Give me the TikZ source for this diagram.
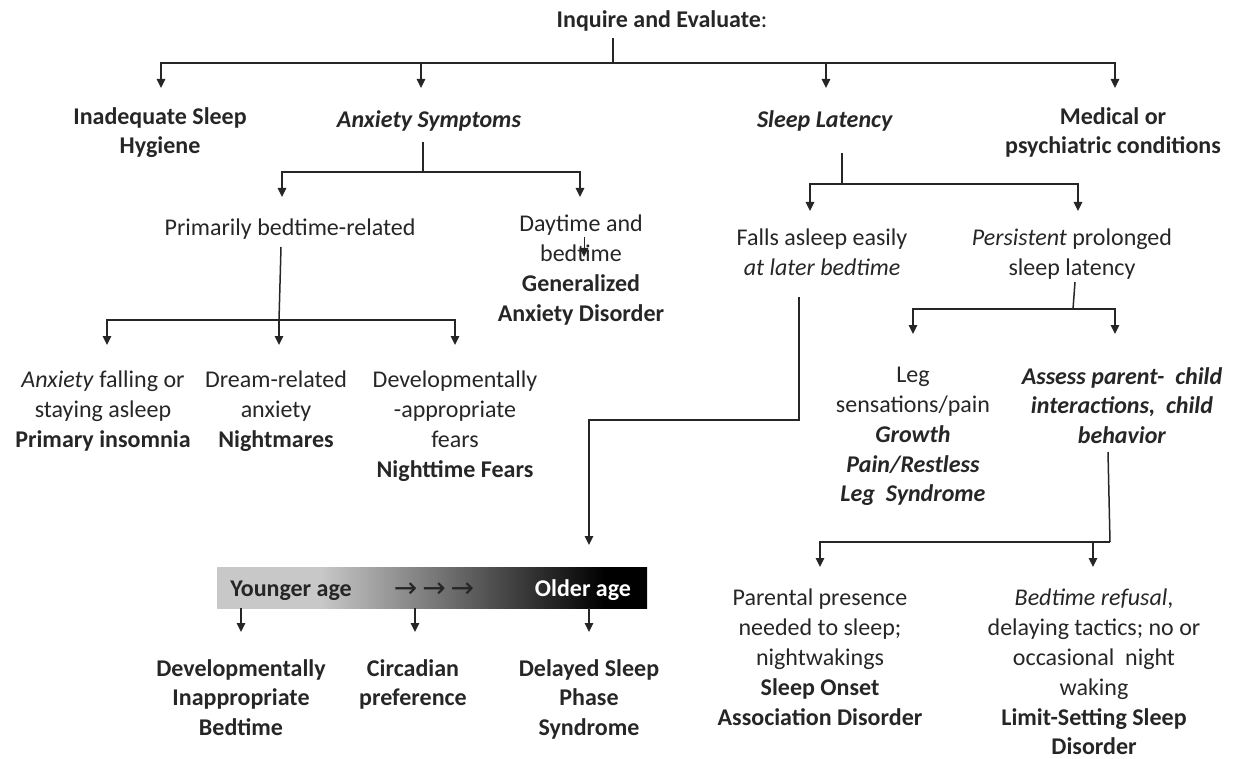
\documentclass[tikz,border=0pt]{standalone}
\usepackage{fontspec}
\setmainfont{Carlito}
\newfontfamily\arrowfont{DejaVu Sans}
\usepackage{tikz}
\usepackage{xcolor}
\usetikzlibrary{arrows.meta}

\definecolor{inkgray}{HTML}{262626}
\definecolor{barlight}{HTML}{C8C8C8}
\pgfdeclarehorizontalshading{agebar}{100bp}{color(0bp)=(barlight); color(37bp)=(barlight); color(70bp)=(black); color(100bp)=(black)}

\begin{document}
\begin{tikzpicture}[x=1pt, y=-1pt,
    txt/.style={align=center, inner sep=0pt, anchor=north, yshift=20pt,
        execute at begin node={\rule{0pt}{20pt}}, text=inkgray,
        font=\fontsize{24}{29.8}\selectfont},
    link/.style={draw=inkgray, line width=1.5pt},
    down/.style={link, -{Triangle[length=9pt, width=8.5pt]}},
    ]
    \useasboundingbox (0,0) rectangle (1236,759);
    %% 第一层: 问诊
    \node[txt] (inq) at (662,27) {\textbf{Inquire and Evaluate}:};
    \node[txt] (hyg) at (160,127) {\textbf{Inadequate Sleep}\\\textbf{Hygiene}};
    \node[txt] (anx) at (429,127) {\textbf{\textit{Anxiety Symptoms}}};
    \node[txt] (lat) at (825,127) {\textbf{\textit{Sleep Latency}}};
    \node[txt] (med) at (1113,127) {\textbf{Medical or}\\\textbf{psychiatric conditions}};
    \coordinate (inq-foot) at (613,38);
    \coordinate (top-bus) at (613,63);
    \coordinate (hyg-in) at (161,88);
    \coordinate (anx-in) at (421,88);
    \coordinate (lat-in) at (826,88);
    \coordinate (med-in) at (1115,88);
    \draw[link] (inq-foot) -- (top-bus);
    \foreach \c in {hyg-in, anx-in, lat-in, med-in}
        \draw[down] (top-bus) -| (\c);

    %% 焦虑分支
    \node[txt] (prim) at (290,235) {Primarily bedtime-related};
    \node[txt] (day) at (581,235) {Daytime and\\bedtime\\\textbf{Generalized}\\\textbf{Anxiety Disorder}};
    \coordinate (anx-foot) at (423,142);
    \coordinate (anx-bus) at (423,172);
    \coordinate (prim-in) at (282,197);
    \coordinate (day-in) at (580,197);
    \draw[link] (anx-foot) -- (anx-bus);
    \foreach \c in {prim-in, day-in}
        \draw[down] (anx-bus) -| (\c);
    \draw[down, line width=1pt] (584,237) -- (584,257); % 文字中的小箭头

    \node[txt] (ins) at (103,391) {\textit{Anxiety} falling or\\staying asleep\\\textbf{Primary insomnia}};
    \node[txt] (nig) at (276,391) {Dream-related\\anxiety\\\textbf{Nightmares}};
    \node[txt] (fea) at (455,391) {Developmentally\\-appropriate\\fears\\\textbf{Nighttime Fears}};
    \coordinate (prim-foot) at (281,247);
    \coordinate (prim-bus) at (279,320);
    \coordinate (ins-in) at (107,345);
    \coordinate (nig-in) at (279,345);
    \coordinate (fea-in) at (455,345);
    \draw[link] (prim-foot) -- (prim-bus);
    \foreach \c in {ins-in, nig-in, fea-in}
        \draw[down] (prim-bus) -| (\c);

    %% 入睡潜伏期分支
    \node[txt] (fal) at (822,249) {Falls asleep easily\\\textit{at later bedtime}};
    \node[txt] (per) at (1072,249) {\textit{Persistent} prolonged\\sleep latency};
    \coordinate (lat-foot) at (842,153);
    \coordinate (lat-bus) at (842,184);
    \coordinate (fal-in) at (810,211);
    \coordinate (per-in) at (1078,211);
    \draw[link] (lat-foot) -- (lat-bus);
    \foreach \c in {fal-in, per-in}
        \draw[down] (lat-bus) -| (\c);

    \node[txt] (leg) at (913,387) {Leg\\sensations/pain\\\textbf{\textit{Growth}}\\\textbf{\textit{Pain/Restless}}\\\textbf{\textit{Leg~ Syndrome}}};
    \node[txt] (ass) at (1122,387) {\textbf{\textit{Assess parent-~ child}}\\\textbf{\textit{interactions,~ child}}\\\textbf{\textit{behavior}}};
    \coordinate (per-foot) at (1075,282);
    \coordinate (per-bus) at (1073,309);
    \coordinate (leg-in) at (913,334);
    \coordinate (ass-in) at (1115,334);
    \draw[link] (per-foot) -- (per-bus);
    \foreach \c in {leg-in, ass-in}
        \draw[down] (per-bus) -| (\c);

    \node[txt] (par) at (820,609) {Parental presence\\needed to sleep;\\nightwakings\\\textbf{Sleep Onset}\\\textbf{Association Disorder}};
    \node[txt] (lim) at (1094,609) {\textit{Bedtime refusal},\\delaying tactics; no or\\occasional~ night\\waking\\\textbf{Limit-Setting Sleep}\\\textbf{Disorder}};
    \coordinate (ass-foot) at (1108,452);
    \coordinate (ass-bus) at (1110,542);
    \coordinate (par-in) at (820,567);
    \coordinate (lim-in) at (1093,567);
    \draw[link] (ass-foot) -- (ass-bus);
    \foreach \c in {par-in, lim-in}
        \draw[down] (ass-bus) -| (\c);

    %% 年龄渐变条
    \node[shading=agebar, shade, minimum width=430pt, minimum height=41pt,
        inner sep=0pt, anchor=north west] (bar) at (217,567) {};
    \node[txt, text=black!85] (young) at (291,596) {\textbf{Younger age}};
    \node[txt, text=black!85, font=\fontsize{28}{29.8}\arrowfont] (steps) at (434,597) {→\kern5pt→\kern5pt→};
    \node[txt, text=white] (old) at (583,596) {\textbf{Older age}};
    \coordinate (fal-foot) at (799,297);
    \coordinate (fal-turn) at (799,420);
    \coordinate (bar-in) at (589,545);
    \draw[down] (fal-foot) -- (fal-turn) -| (bar-in);

    \node[txt] (dib) at (241,679) {\textbf{Developmentally}\\\textbf{Inappropriate}\\\textbf{Bedtime}};
    \node[txt] (cir) at (413,679) {\textbf{Circadian}\\\textbf{preference}};
    \node[txt] (dsp) at (589,679) {\textbf{Delayed Sleep}\\\textbf{Phase}\\\textbf{Syndrome}};
    \coordinate (dib-in) at (241,632);
    \coordinate (cir-in) at (415,632);
    \coordinate (dsp-in) at (589,632);
    \foreach \c in {dib-in, cir-in, dsp-in}
        \draw[down] (bar.south -| \c) -- (\c);
\end{tikzpicture}
\end{document}
